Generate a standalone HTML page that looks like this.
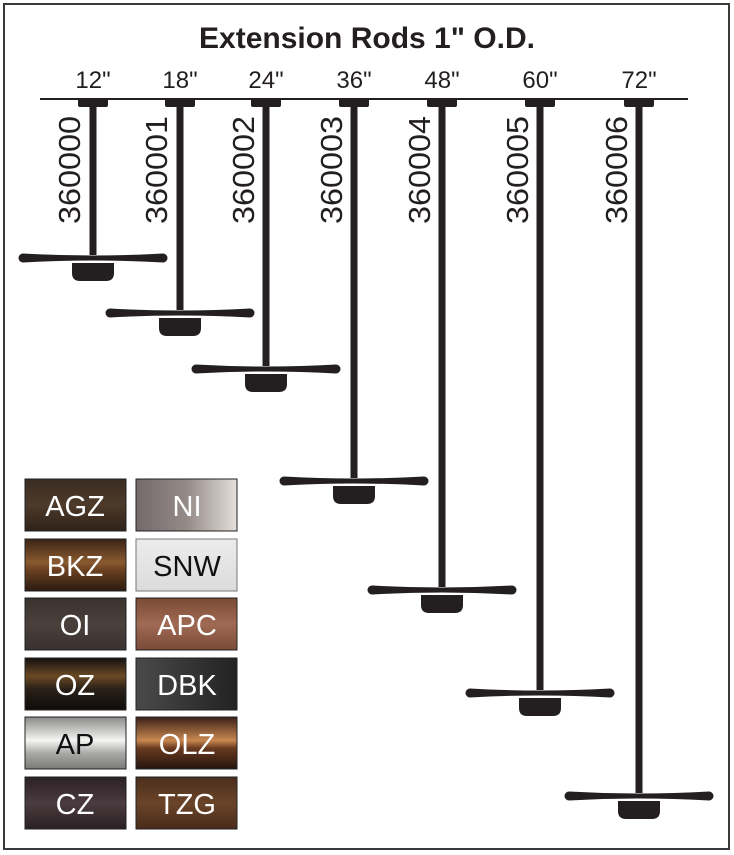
<!DOCTYPE html>
<html><head><meta charset="utf-8"><style>
html,body{margin:0;padding:0;background:#fff}
svg{display:block}
text{font-family:"Liberation Sans",sans-serif}
</style></head><body>
<svg width="734" height="855" viewBox="0 0 734 855" xmlns="http://www.w3.org/2000/svg">
<defs>
<linearGradient id="agz" x1="0" y1="0" x2="0" y2="1"><stop offset="0" stop-color="#3a2c22"/><stop offset="0.5" stop-color="#4d3a2a"/><stop offset="1" stop-color="#2e2219"/></linearGradient>
<linearGradient id="ni" x1="0" y1="0" x2="1" y2="0"><stop offset="0" stop-color="#756a6a"/><stop offset="0.5" stop-color="#948a88"/><stop offset="1" stop-color="#e4e0dc"/></linearGradient>
<linearGradient id="bkz" x1="0" y1="0" x2="0" y2="1"><stop offset="0" stop-color="#3a2416"/><stop offset="0.45" stop-color="#8a5a30"/><stop offset="0.6" stop-color="#6a4020"/><stop offset="1" stop-color="#2a1a10"/></linearGradient>
<linearGradient id="snw" x1="0" y1="0" x2="0" y2="1"><stop offset="0" stop-color="#ececec"/><stop offset="1" stop-color="#dcdcdc"/></linearGradient>
<linearGradient id="oi" x1="0" y1="0" x2="0" y2="1"><stop offset="0" stop-color="#3a322e"/><stop offset="0.5" stop-color="#4a403c"/><stop offset="1" stop-color="#3a3230"/></linearGradient>
<linearGradient id="apc" x1="0" y1="0" x2="0" y2="1"><stop offset="0" stop-color="#7a4a34"/><stop offset="0.5" stop-color="#a06a54"/><stop offset="1" stop-color="#7a4a38"/></linearGradient>
<linearGradient id="oz" x1="0" y1="0" x2="0" y2="1"><stop offset="0" stop-color="#141010"/><stop offset="0.35" stop-color="#6a4a24"/><stop offset="0.6" stop-color="#2a2018"/><stop offset="1" stop-color="#0e0c0a"/></linearGradient>
<linearGradient id="dbk" x1="0" y1="0" x2="1" y2="0"><stop offset="0" stop-color="#4a4a4a"/><stop offset="1" stop-color="#222"/></linearGradient>
<linearGradient id="ap" x1="0" y1="0" x2="0" y2="1"><stop offset="0" stop-color="#8a8a88"/><stop offset="0.45" stop-color="#f4f4f2"/><stop offset="0.7" stop-color="#a8a8a6"/><stop offset="1" stop-color="#7a7a78"/></linearGradient>
<linearGradient id="olz" x1="0" y1="0" x2="0" y2="1"><stop offset="0" stop-color="#3a2018"/><stop offset="0.45" stop-color="#c88850"/><stop offset="0.6" stop-color="#6a3a20"/><stop offset="1" stop-color="#24140e"/></linearGradient>
<linearGradient id="cz" x1="0" y1="0" x2="0" y2="1"><stop offset="0" stop-color="#2a2024"/><stop offset="0.5" stop-color="#4a3c40"/><stop offset="1" stop-color="#2a2022"/></linearGradient>
<linearGradient id="tzg" x1="0" y1="0" x2="0" y2="1"><stop offset="0" stop-color="#4a2e1c"/><stop offset="0.5" stop-color="#6a4428"/><stop offset="1" stop-color="#4a2c1a"/></linearGradient>
<g id="blade"><path d="M-70,-4.5 Q0,-0.5 70,-4.5 L70,4.5 Q0,0.5 -70,4.5 Z" fill="#231f20"/><circle cx="-70" cy="0" r="4.5" fill="#231f20"/><circle cx="70" cy="0" r="4.5" fill="#231f20"/><path d="M-21,5 H21 V15 Q21,23 13,23 H-13 Q-21,23 -21,15 Z" fill="#231f20"/></g>
</defs>
<rect x="4" y="4" width="725" height="845" fill="#fff" stroke="#3a3a3a" stroke-width="2"/>
<text x="367" y="48" font-size="30" font-weight="bold" text-anchor="middle" fill="#231f20">Extension Rods 1" O.D.</text>
<line x1="40" y1="99" x2="688" y2="99" stroke="#231f20" stroke-width="2"/>
<g font-size="24" text-anchor="middle" fill="#231f20">
<text x="93" y="88">12"</text><text x="180" y="88">18"</text><text x="266" y="88">24"</text><text x="354" y="88">36"</text><text x="442" y="88">48"</text><text x="540" y="88">60"</text><text x="639" y="88">72"</text>
</g>
<g fill="#231f20">
<rect x="78" y="98" width="30" height="9" rx="2"/><rect x="89.5" y="100" width="7" height="155"/>
<rect x="165" y="98" width="30" height="9" rx="2"/><rect x="176.5" y="100" width="7" height="210"/>
<rect x="251" y="98" width="30" height="9" rx="2"/><rect x="262.5" y="100" width="7" height="266"/>
<rect x="339" y="98" width="30" height="9" rx="2"/><rect x="350.5" y="100" width="7" height="378"/>
<rect x="427" y="98" width="30" height="9" rx="2"/><rect x="438.5" y="100" width="7" height="487"/>
<rect x="525" y="98" width="30" height="9" rx="2"/><rect x="536.5" y="100" width="7" height="590"/>
<rect x="624" y="98" width="30" height="9" rx="2"/><rect x="635.5" y="100" width="7" height="693"/>
</g>
<use href="#blade" x="93" y="258"/><use href="#blade" x="180" y="313"/><use href="#blade" x="266" y="369"/><use href="#blade" x="354" y="481"/><use href="#blade" x="442" y="590"/><use href="#blade" x="540" y="693"/><use href="#blade" x="639" y="796"/>
<g font-size="31" fill="#231f20" text-anchor="middle">
<text transform="translate(80,170) rotate(-90)" textLength="108" lengthAdjust="spacingAndGlyphs">360000</text>
<text transform="translate(167,170) rotate(-90)" textLength="108" lengthAdjust="spacingAndGlyphs">360001</text>
<text transform="translate(254,170) rotate(-90)" textLength="108" lengthAdjust="spacingAndGlyphs">360002</text>
<text transform="translate(342,170) rotate(-90)" textLength="108" lengthAdjust="spacingAndGlyphs">360003</text>
<text transform="translate(430,170) rotate(-90)" textLength="108" lengthAdjust="spacingAndGlyphs">360004</text>
<text transform="translate(528,170) rotate(-90)" textLength="108" lengthAdjust="spacingAndGlyphs">360005</text>
<text transform="translate(627,170) rotate(-90)" textLength="108" lengthAdjust="spacingAndGlyphs">360006</text>
</g>
<g stroke="#222" stroke-width="1">
<rect x="25" y="479" width="101" height="52" fill="url(#agz)"/><rect x="136" y="479" width="101" height="52" fill="url(#ni)"/>
<rect x="25" y="539" width="101" height="52" fill="url(#bkz)"/><rect x="136" y="539" width="101" height="52" fill="url(#snw)" stroke="#777"/>
<rect x="25" y="598" width="101" height="52" fill="url(#oi)"/><rect x="136" y="598" width="101" height="52" fill="url(#apc)"/>
<rect x="25" y="658" width="101" height="52" fill="url(#oz)"/><rect x="136" y="658" width="101" height="52" fill="url(#dbk)"/>
<rect x="25" y="717" width="101" height="52" fill="url(#ap)"/><rect x="136" y="717" width="101" height="52" fill="url(#olz)"/>
<rect x="25" y="777" width="101" height="52" fill="url(#cz)"/><rect x="136" y="777" width="101" height="52" fill="url(#tzg)"/>
</g>
<g font-size="29" text-anchor="middle" fill="#fff">
<text x="75" y="516">AGZ</text><text x="187" y="516">NI</text>
<text x="75" y="576">BKZ</text><text x="187" y="576" fill="#111">SNW</text>
<text x="75" y="635">OI</text><text x="187" y="635">APC</text>
<text x="75" y="695">OZ</text><text x="187" y="695">DBK</text>
<text x="75" y="754" fill="#111">AP</text><text x="187" y="754">OLZ</text>
<text x="75" y="814">CZ</text><text x="187" y="814">TZG</text>
</g>
</svg>
</body></html>
